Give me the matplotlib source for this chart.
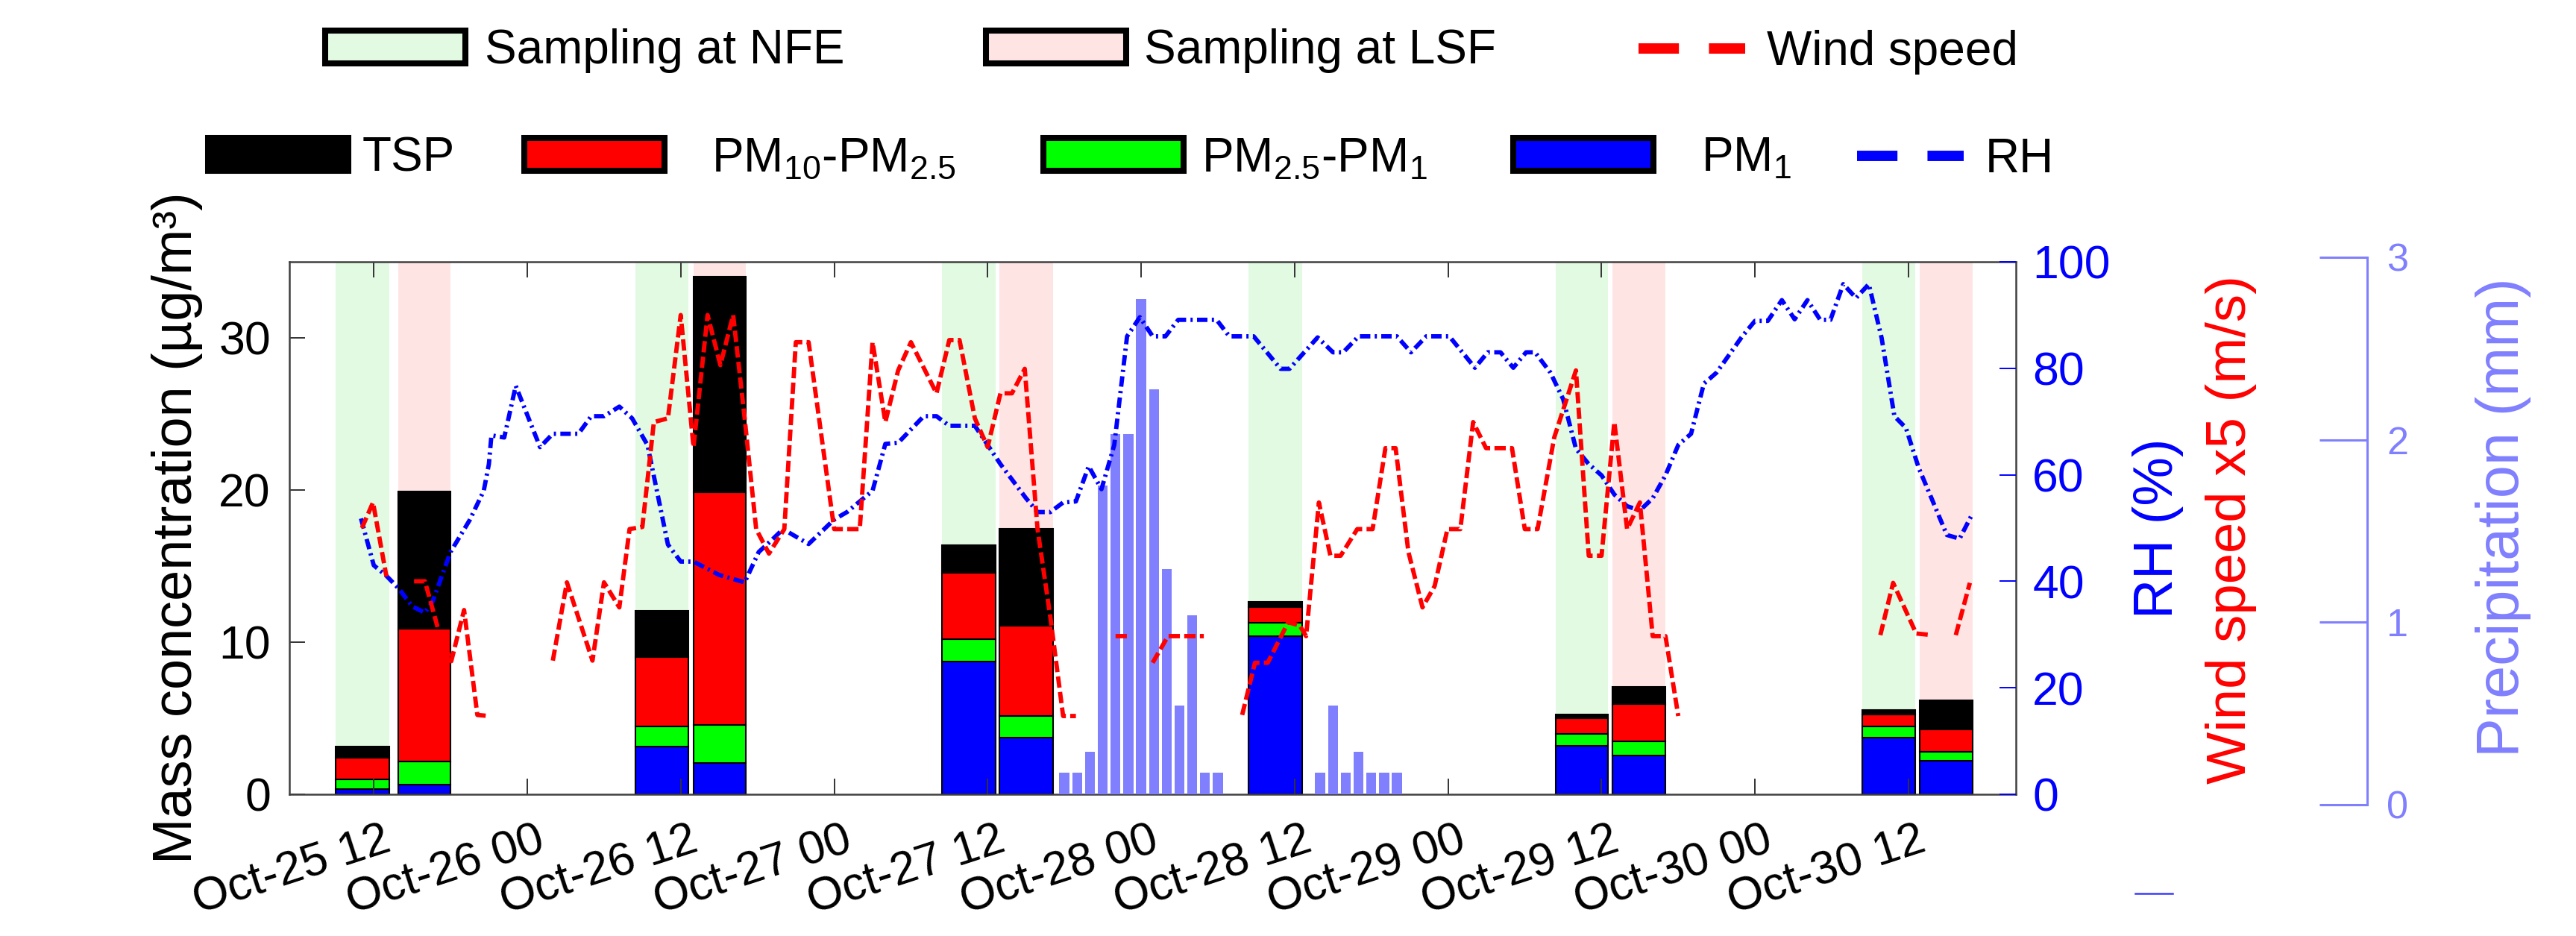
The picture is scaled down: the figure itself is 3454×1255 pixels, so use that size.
import numpy as np
import matplotlib
matplotlib.use("Agg")
import matplotlib.pyplot as plt
import matplotlib.transforms as mtransforms
from matplotlib.patches import Patch
from matplotlib.lines import Line2D

plt.rcParams["font.family"] = ["Liberation Sans", "DejaVu Sans"]
plt.rcParams["mathtext.fontset"] = "custom"
plt.rcParams["mathtext.rm"] = "Liberation Sans"

W, H, DPI = 3455, 1255, 200

# time axis in hours since Oct-25 00:00
tick_hours = [12, 24, 36, 48, 60, 72, 84, 96, 108, 120, 132]
tick_labels = ["Oct-25 12", "Oct-26 00", "Oct-26 12", "Oct-27 00", "Oct-27 12",
               "Oct-28 00", "Oct-28 12", "Oct-29 00", "Oct-29 12", "Oct-30 00",
               "Oct-30 12"]

# filter sampling periods (site, start hour, end hour)
sample_site = ["NFE", "LSF", "NFE", "LSF", "NFE", "LSF", "NFE", "NFE", "LSF", "NFE", "LSF"]
sample_start = [9.0, 13.9, 32.45, 37.0, 56.4, 60.9, 80.4, 104.4, 108.85, 128.4, 132.9]
sample_end = [13.2, 18.0, 36.6, 41.1, 60.6, 65.1, 84.6, 108.5, 113.0, 132.55, 137.0]

# cumulative mass concentrations (ug/m3)
pm1 = [0.33, 0.63, 3.13, 2.08, 8.72, 3.73, 10.39, 3.21, 2.56, 3.75, 2.2]
pm25 = [0.98, 2.18, 4.44, 4.54, 10.2, 5.14, 11.29, 3.96, 3.46, 4.44, 2.8]
pm10 = [2.38, 10.9, 9.0, 19.87, 14.56, 11.1, 12.31, 4.99, 5.94, 5.26, 4.28]
tsp = [3.13, 19.9, 12.06, 34.04, 16.39, 17.47, 12.64, 5.26, 7.07, 5.56, 6.16]

# relative humidity (%)
rh_hours = [11.0, 12.0, 13.0, 14.0, 15.0, 16.0, 16.6, 18.0, 19.5, 20.6, 21.0, 21.2,
            22.2, 23.1, 25.0, 26.0, 28.0, 29.0, 30.0, 31.2, 32.2, 33.4, 35.0, 36.0,
            37.0, 39.0, 41.0, 42.1, 43.1, 44.0, 46.0, 48.0, 49.0, 51.0, 52.0, 53.0,
            55.0, 56.0, 57.0, 59.0, 60.0, 61.0, 62.0, 63.0, 63.9, 64.9, 65.9, 66.9,
            67.9, 68.9, 69.9, 70.9, 71.9, 72.9, 73.9, 74.9, 77.9, 78.9, 80.8, 82.9,
            83.6, 85.8, 87.0, 87.8, 89.0, 92.0, 93.1, 94.3, 96.1, 98.1, 99.1, 100.1,
            101.1, 102.1, 102.8, 104.0, 105.0, 106.0, 107.0, 108.0, 109.0, 110.0,
            111.0, 112.0, 113.0, 114.0, 115.0, 116.0, 117.0, 119.0, 120.0, 121.0,
            122.1, 123.1, 124.1, 125.1, 125.9, 126.9, 127.9, 128.9, 129.9, 130.9,
            131.8, 132.8, 133.8, 135.0, 136.0, 137.0]
rh = [51.8, 43.0, 41.0, 38.5, 35.3, 34.1, 36.2, 45.5, 51.5, 57.0, 62.0, 67.4,
      67.0, 76.7, 65.2, 67.7, 67.7, 71.0, 71.0, 72.8, 70.6, 65.6, 46.9, 43.7,
      43.7, 41.2, 39.8, 45.5, 47.7, 49.8, 47.0, 51.6, 53.0, 57.0, 65.8, 66.0,
      71.0, 71.0, 69.2, 69.2, 65.6, 62.0, 58.8, 55.6, 53.0, 53.0, 54.8, 55.0,
      61.6, 57.3, 65.6, 86.0, 89.6, 86.0, 86.0, 89.1, 89.1, 86.0, 86.0, 79.9,
      79.9, 85.8, 83.0, 83.0, 86.0, 86.0, 83.0, 86.0, 86.0, 80.1, 83.0, 83.0,
      80.1, 83.0, 83.0, 79.2, 74.2, 64.9, 62.0, 59.9, 56.3, 54.1,
      53.3, 55.6, 59.9, 65.6, 67.7, 77.1, 79.2, 86.0, 88.9, 88.9,
      92.8, 89.2, 92.8, 89.1, 89.1, 95.8, 93.2, 95.8, 85.7, 71.0,
      68.8, 61.3, 55.6, 48.7, 48.0, 52.7]

# wind speed x5 (m/s), nan = missing
nan = np.nan
wind_hours = [11.07, 11.94, 12.99, nan,
              15.15, 16.0, 17.0, 18.06, 19.06, 20.1, 21.0, nan,
              26.0, 27.1, 29.1, 30.0, 31.2, 32.0, 33.0, 33.9, 35.0, 36.0, 37.0,
              38.1, 39.1, 40.1, 41.0, 41.9, 42.9, 44.1, 45.0, 46.0, 48.0, 50.0,
              51.0, 52.0, 53.0, 54.0, 56.0, 57.0, 57.8, 59.0, 60.0, 61.0, 61.9,
              62.9, 63.9, 64.9, 65.9, 66.9, nan,
              70.0, 70.9, nan,
              72.9, 74.1, 76.9, nan,
              79.9, 80.9, 81.9, 83.5, 84.4, 84.9, 85.9, 86.8, 87.6, 88.9, 90.1,
              91.1, 91.9, 92.9, 94.0, 94.95, 95.95, 96.96, 97.96, 98.97, 101.0,
              102.0, 103.0, 104.3, 106.0, 107.0, 108.0, 109.0, 110.0, 111.0,
              112.0, 113.0, 114.0, nan,
              129.8, 130.8, 132.6, 133.8, nan,
              135.7, 136.8]
wind_x5 = [50.0, 54.8, 40.9, nan,
           40.0, 40.0, 31.3, 25.0, 34.6, 14.9, 14.7, nan,
           25.1, 39.8, 25.1, 39.8, 35.1, 49.8, 50.2, 69.9, 70.6, 90.0, 65.2,
           90.0, 80.6, 90.0, 70.6, 49.8, 45.2, 49.8, 84.9, 84.9, 49.8, 49.8,
           84.9, 69.9, 79.6, 84.9, 75.3, 85.3, 85.3, 70.6, 65.2, 75.3, 75.3,
           79.9, 49.8, 33.3, 14.7, 14.7, nan,
           29.7, 29.7, nan,
           24.7, 29.7, 29.7, nan,
           14.9, 24.7, 24.7, 32.3, 31.7, 29.7, 54.8, 44.8, 44.8, 49.8, 49.8,
           65.0, 65.0, 45.5, 35.1, 39.1, 49.8, 49.8, 69.9, 65.0, 65.0,
           49.8, 49.8, 67.0, 79.6, 44.8, 44.8, 69.9, 49.8, 54.8,
           29.7, 29.7, 14.7, nan,
           29.9, 39.7, 30.2, 29.9, nan,
           29.9, 39.7]

# hourly precipitation (mm)
precip_hours = [66, 67, 68, 69, 70, 71, 72, 73, 74, 75, 76, 77, 78,
                86, 87, 88, 89, 90, 91, 92]
precip = [0.12, 0.12, 0.24, 1.74, 2.03, 2.03, 2.79, 2.28, 1.27, 0.5, 1.01, 0.12, 0.12,
          0.12, 0.5, 0.12, 0.24, 0.12, 0.12, 0.12]

site_colors = {"NFE": "#e1fae1", "LSF": "#ffe4e4"}
layer_colors = ["#0000ff", "#00ff00", "#ff0000", "#000000"]
precip_color = "#8080ff"

fig = plt.figure(figsize=(W / DPI, H / DPI), dpi=DPI)
ax = fig.add_axes([388 / W, 1 - 1065 / H, (2703 - 388) / W, (1065 - 351) / H])

start = np.array(sample_start)
end = np.array(sample_end)
for s, e, site in zip(start, end, sample_site):
    ax.axvspan(s, e, color=site_colors[site], lw=0, zorder=0)

tops = [np.array(pm1), np.array(pm25), np.array(pm10), np.array(tsp)]
bottom = np.zeros(len(start))
for top, c in zip(tops, layer_colors):
    ax.bar((start + end) / 2, top - bottom, width=end - start, bottom=bottom,
           color=c, edgecolor="black", linewidth=0.75, zorder=1)
    bottom = top

ax.set_xlim(5.4, 140.4)
ax.set_ylim(0, 35)
ax.set_yticks([0, 10, 20, 30])
ax.set_xticks(tick_hours, tick_labels, rotation=18, ha="right", va="top",
              rotation_mode="anchor")
ax.tick_params(axis="both", direction="in", length=7.5, width=0.7,
               color="#333333", labelsize=22.5)
ax.tick_params(axis="x", top=True, pad=11.5)
ax.tick_params(axis="y", pad=9)
for sp in ax.spines.values():
    sp.set_color("#404040")
    sp.set_linewidth(0.9)
shift = mtransforms.ScaledTranslation(12 / DPI, 0, fig.dpi_scale_trans)
for lab in ax.get_xticklabels():
    lab.set_transform(lab.get_transform() + shift)

ax.set_ylabel("Mass concentration (µg/m³)", fontsize=26.6)
ax.yaxis.set_label_coords(-0.05, 0.5)

# precipitation bars
ax_p = ax.twinx()
ax_p.bar(precip_hours, precip, width=0.78, color=precip_color, lw=0)
ax_p.set_ylim(0, 3)
ax_p.axis("off")

# RH and wind speed
ax2 = ax.twinx()
ax2.plot(rh_hours, rh, color="#0000ff", lw=2.1, dashes=(2.4, 1.0, 0.5, 1.0))
ax2.plot(wind_hours, wind_x5, color="#ff0000", lw=2.1, dashes=(2.6, 1.0))
ax2.set_ylim(0, 100)
ax2.set_yticks(range(0, 101, 20))
ax2.tick_params(axis="y", direction="in", colors="#0000ff", length=8, width=0.7,
                labelsize=22.5, pad=8)
for sp in ax2.spines.values():
    sp.set_visible(False)

ax.text(1.0825, 0.5, "RH (%)", transform=ax.transAxes, rotation=90,
        ha="center", va="center", color="#0000ff", fontsize=26.5)
ax.text(1.1248, 0.497, "Wind speed x5 (m/s)", transform=ax.transAxes, rotation=90,
        ha="center", va="center", color="#ff0000", fontsize=26.8)
ax.text(1.2821, 0.52, "Precipitation (mm)", transform=ax.transAxes, rotation=90,
        ha="center", va="center", color=precip_color, fontsize=28.5)

# separate precipitation scale
ax3 = fig.add_axes([3100 / W, 1 - 1079 / H, 74 / W, (1079 - 345) / H])
ax3.set_ylim(0, 3)
ax3.set_yticks([0, 1, 2, 3])
ax3.yaxis.tick_right()
ax3.set_xticks([])
ax3.patch.set_visible(False)
for name in ["left", "top", "bottom"]:
    ax3.spines[name].set_visible(False)
ax3.spines["right"].set_color(precip_color)
ax3.spines["right"].set_linewidth(1.1)
ax3.tick_params(axis="y", direction="in", length=23, width=1.1, colors=precip_color,
                labelsize=18.8, pad=9.4)

fig.add_artist(Line2D([2863 / W, 2913 / W], [1 - 1198 / H] * 2, color="#3a3aff", lw=0.9))

# legend keys, one per entry
em = 23 * DPI / 72


def patch_key(color):
    return Patch(facecolor=color, edgecolor="black", linewidth=2.9)


def line_key(color):
    return Line2D([], [], color=color, lw=5, dashes=(3.9, 2.9))


keys = [
    (patch_key(site_colors["NFE"]), "Sampling at NFE", 436, 68, 26, 188),
    (patch_key(site_colors["LSF"]), "Sampling at LSF", 1322, 68, 24, 188),
    (line_key("#ff0000"), "Wind speed", 2197, 70, 29, 143),
    (patch_key("#000000"), "TSP", 279, 212, 19, 188),
    (patch_key("#ff0000"), r"PM$_\mathregular{10}$-PM$_\mathregular{2.5}$", 703, 212, 63, 188),
    (patch_key("#00ff00"), r"PM$_\mathregular{2.5}$-PM$_\mathregular{1}$", 1399, 212, 24, 188),
    (patch_key("#0000ff"), r"PM$_\mathregular{1}$", 2029, 212, 64, 188),
    (line_key("#0000ff"), "RH", 2490, 214, 29, 143),
]
for handle, label, x, y, pad, hlen in keys:
    fig.legend([handle], [label], loc="center left", bbox_to_anchor=(x / W, 1 - y / H),
               frameon=False, fontsize=23, borderpad=0, borderaxespad=0,
               handlelength=hlen / em, handleheight=0.68, handletextpad=pad / em)

fig.savefig("out.png", dpi=DPI)
